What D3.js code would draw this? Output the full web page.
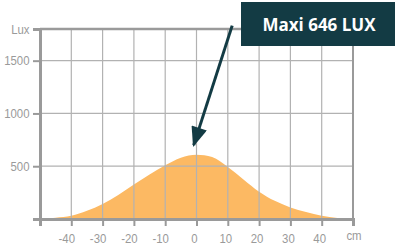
<!DOCTYPE html>
<html>
<head>
<meta charset="utf-8">
<script src="https://cdn.jsdelivr.net/npm/d3@7"></script>
<style>
  html, body { margin: 0; padding: 0; background: #fff; }
  .tick-label { font-family: "Liberation Sans", Arial, sans-serif; font-size: 12px; fill: #9a9a9a; }
</style>
</head>
<body>
<div id="chart"></div>
<script>
// distance from the lamp axis (cm) and measured illuminance (lux)
const positions = [-50, -45, -40, -35, -30, -25, -20, -15, -10, -5, 0, 5, 10, 15, 20, 25, 30, 35, 40, 45, 50];
const lux = [0, 12, 31, 78, 143, 228, 328, 422, 509, 581, 609, 587, 493, 375, 259, 172, 109, 66, 31, 10, 0];

const xTicks = [-40, -30, -20, -10, 0, 10, 20, 30, 40];
const yTicks = [500, 1000, 1500];
const xUnit = 'cm';
const yUnit = 'Lux';
const calloutText = 'Maxi 646 LUX';

const data = positions.map((p, i) => ({ pos: p, lux: lux[i] }));

const W = 395, H = 246;
const margin = { top: 29, right: 42, bottom: 27, left: 40 };
const width = W - margin.left - margin.right,
  height = H - margin.top - margin.bottom;

const svgRoot = d3
  .select('#chart')
  .append('svg')
  .attr('width', W)
  .attr('height', H);

const svg = svgRoot
  .append('g')
  .attr('transform', `translate(${margin.left}, ${margin.top})`);

//scale x
const x = d3.scaleLinear().domain([-50, 50]).range([0, width]);
//scale y
const y = d3.scaleLinear().domain([0, 1800]).range([height, 0]);

const gray = '#9a9a9a';
const squeeze = 0.95; // labels are set in a slightly narrow face

//filled curve
const area = d3
  .area()
  .x((d) => x(d.pos))
  .y0(y(0))
  .y1((d) => y(d.lux))
  .curve(d3.curveMonotoneX);

svg
  .append('path')
  .datum(data)
  .attr('d', area)
  .attr('fill', '#fcb963');

//grid lines, drawn over the fill
svg
  .selectAll('.xGrid')
  .data(xTicks)
  .enter()
  .append('line')
  .attr('x1', (d) => x(d))
  .attr('x2', (d) => x(d))
  .attr('y1', 0)
  .attr('y2', height)
  .attr('stroke', '#b2b2b2')
  .attr('stroke-width', 1.2);

svg
  .selectAll('.yGrid')
  .data(yTicks)
  .enter()
  .append('line')
  .attr('x1', 0)
  .attr('x2', width)
  .attr('y1', (d) => y(d))
  .attr('y2', (d) => y(d))
  .attr('stroke', '#b2b2b2')
  .attr('stroke-width', 1.2);

//frame: top and right thinner, left and bottom axes heavier
svg.append('line')
  .attr('x1', 0).attr('x2', width).attr('y1', y(1800)).attr('y2', y(1800))
  .attr('stroke', gray).attr('stroke-width', 2.5);
svg.append('line')
  .attr('x1', width).attr('x2', width).attr('y1', y(1800)).attr('y2', height)
  .attr('stroke', gray).attr('stroke-width', 2);

//x axis with ticks at each 10 cm plus the ends
const xAxis = svg
  .append('g')
  .attr('transform', `translate(0, ${height})`)
  .attr('font-family', null)
  .attr('font-size', null)
  .call(
    d3.axisBottom(x)
      .tickValues([-50].concat(xTicks, [50]))
      .tickSize(7)
      .tickFormat((d) => (xTicks.includes(d) ? d : ''))
  );
xAxis.attr('font-family', null).attr('font-size', null);
xAxis.select('.domain').attr('stroke', gray).attr('stroke-width', 3);
xAxis.selectAll('.tick line').attr('stroke', gray).attr('stroke-width', 2);
xAxis.selectAll('.tick text')
  .attr('class', 'tick-label')
  .attr('fill', null)
  .attr('x', 0)
  .attr('y', 0)
  .attr('dy', null)
  .attr('transform', (d) => `translate(${d < 0 ? -5 : -2.5}, 24) scale(${squeeze}, 1)`);

//y axis
const yAxis = svg
  .append('g')
  .call(
    d3.axisLeft(y)
      .tickValues([0].concat(yTicks, [1800]))
      .tickSize(7)
      .tickFormat((d) => (d === 1800 ? yUnit : d === 0 ? '' : d))
  );
yAxis.attr('font-family', null).attr('font-size', null);
yAxis.select('.domain').attr('stroke', gray).attr('stroke-width', 3);
yAxis.selectAll('.tick line').attr('stroke', gray).attr('stroke-width', 2)
  .attr('x2', (d) => (d === 0 ? 0 : -7));
yAxis.selectAll('.tick text')
  .attr('class', 'tick-label')
  .attr('fill', null)
  .attr('x', 0)
  .attr('dy', '0.36em')
  .attr('transform', `translate(-10.5, 0) scale(${squeeze}, 1)`);

//unit label on the x axis
svg
  .append('text')
  .attr('class', 'tick-label')
  .attr('text-anchor', 'middle')
  .attr('transform', `translate(${x(50) + 1}, ${height + 21}) scale(${squeeze}, 1)`)
  .text(xUnit);

//callout arrow pointing at the peak
const teal = '#133b44';
svgRoot
  .append('defs')
  .append('marker')
  .attr('id', 'head')
  .attr('viewBox', '0 0 20 16')
  .attr('refX', 18)
  .attr('refY', 8)
  .attr('markerWidth', 21)
  .attr('markerHeight', 16)
  .attr('markerUnits', 'userSpaceOnUse')
  .attr('orient', 'auto')
  .append('path')
  .attr('d', 'M0,0 L20,8 L0,16 Z')
  .attr('fill', teal);

svg
  .append('line')
  .attr('x1', x(11.4))
  .attr('y1', y(1832))
  .attr('x2', x(-0.9))
  .attr('y2', y(700))
  .attr('stroke', teal)
  .attr('stroke-width', 3)
  .attr('marker-end', 'url(#head)');

//callout box
const box = svgRoot.append('g').attr('transform', 'translate(241, 2)');
box.append('rect')
  .attr('width', W - 241)
  .attr('height', 44)
  .attr('fill', teal);
box.append('text')
  .attr('x', (W - 241) / 2 + 1)
  .attr('y', 29)
  .attr('text-anchor', 'middle')
  .attr('fill', '#fff')
  .style('font-family', '"Open Sans", "Noto Sans", sans-serif')
  .style('font-weight', 'bold')
  .style('font-size', '17px')
  .text(calloutText);
</script>
</body>
</html>
